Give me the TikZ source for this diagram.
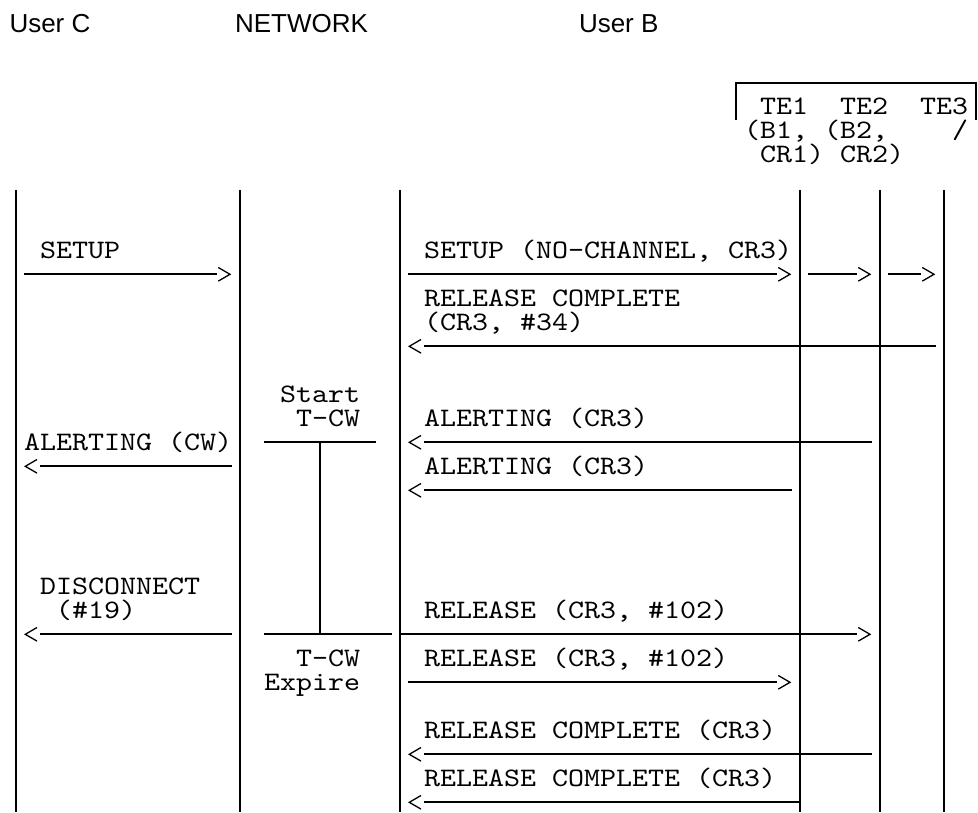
\documentclass[tikz,border=0pt]{standalone}
\usepackage{fontspec}
\setmainfont{Liberation Sans}
\newfontfamily\monof{lmmono10-regular}[Extension=.otf, FakeStretch=1.1429]
\newcommand\gcx[1]{8+16*(#1)}
\newcommand\gby[1]{18.5+24*(#1)}
\newcommand\gdy[1]{10.3+24*(#1)}
% right-going message: name, start x, column of '>', row
\newcommand\rmsg[4]{%
  \coordinate (#1a) at (#2,{\gdy{#4}});
  \coordinate (#1b) at ({\gcx{#3}+1},{\gdy{#4}});
  \coordinate (#1t) at ({\gcx{#3}+14},{\gdy{#4}});
  \draw[msg] (#1a) -- (#1b);
  \draw[tipline] ([shift={(-11.7,-6.8)}]#1t) -- (#1t) -- ([shift={(-11.7,6.8)}]#1t);}
% left-going message: name, column of '<', end x, row
\newcommand\lmsg[4]{%
  \coordinate (#1t) at ({\gcx{#2}+1.3},{\gdy{#4}});
  \coordinate (#1a) at ({\gcx{#2}+16},{\gdy{#4}});
  \coordinate (#1b) at (#3,{\gdy{#4}});
  \draw[msg] (#1a) -- (#1b);
  \draw[tipline] ([shift={(11.7,-6.8)}]#1t) -- (#1t) -- ([shift={(11.7,6.8)}]#1t);}
% monospaced text: name, column, row, text
\newcommand\mtext[4]{\node[mono] (#1) at ({\gcx{#2}},{\gby{#3}}) {#4};}
\begin{document}
\begin{tikzpicture}[x=1pt,y=-1pt,
  mono/.style={font=\monof\fontsize{26.667pt}{24pt}\selectfont\frenchspacing, anchor=base west, inner sep=0pt, outer sep=0pt},
  head/.style={font=\fontsize{26pt}{30pt}\selectfont, anchor=base west, inner sep=0pt, outer sep=0pt},
  life/.style={line width=2.1pt},
  msg/.style={line width=1.8pt},
  tipline/.style={line width=1.3pt, line join=miter},
  brk/.style={line width=1.9pt}]
\useasboundingbox (0,0) rectangle (978,812);
\fill[white] (0,0) rectangle (978,812);

% headers
\node[head] (hC) at (9.5,32) {User C};
\node[head] (hN) at (235,32) {NETWORK};
\node[head] (hB) at (579,32) {User B};

% TE bracket
\coordinate (bk1) at (736,120);
\coordinate (bk2) at (736,82.7);
\coordinate (bk3) at (976,82.7);
\coordinate (bk4) at (976,120);
\draw[brk] (bk1) -- (bk2) -- (bk3) -- (bk4);
\mtext{te1}{47}{4}{TE1}
\mtext{te2}{52}{4}{TE2}
\mtext{te3}{57}{4}{TE3}
\mtext{b1}{46}{5}{(B1,}
\mtext{b2}{51}{5}{(B2,}
\mtext{sl}{59}{5}{/}
\mtext{cr1}{47}{6}{CR1)}
\mtext{cr2}{52}{6}{CR2)}

% lifelines
\foreach \n/\x in {C/16,NL/240,NR/400,T1/800,T2/880,T3/944}{
  \coordinate (\n top) at (\x,190);
  \coordinate (\n bot) at (\x,812);
  \draw[life] (\n top) -- (\n bot);
}

% texts
\mtext{s1}{2}{10}{SETUP}
\mtext{s2}{26}{10}{SETUP (NO-CHANNEL, CR3)}
\mtext{rc1}{26}{12}{RELEASE COMPLETE}
\mtext{rc1b}{26}{13}{(CR3, \#34)}
\mtext{st}{17}{16}{Start}
\mtext{tcw1}{18}{17}{T-CW}
\mtext{al1}{26}{17}{ALERTING (CR3)}
\mtext{alcw}{1}{18}{ALERTING (CW)}
\mtext{al2}{26}{19}{ALERTING (CR3)}
\mtext{dc}{2}{24}{DISCONNECT}
\mtext{dcb}{3}{25}{(\#19)}
\mtext{rl1}{26}{25}{RELEASE (CR3, \#102)}
\mtext{tcw2}{18}{27}{T-CW}
\mtext{rl2}{26}{27}{RELEASE (CR3, \#102)}
\mtext{exp}{16}{28}{Expire}
\mtext{rc2}{26}{30}{RELEASE COMPLETE (CR3)}
\mtext{rc3}{26}{32}{RELEASE COMPLETE (CR3)}

% messages
\rmsg{m1}{24}{13}{11}
\rmsg{m2}{408}{48}{11}
\rmsg{m3}{808}{53}{11}
\rmsg{m4}{888}{57}{11}
\lmsg{m5}{25}{936}{14}
\lmsg{m6}{25}{872}{18}
\lmsg{m7}{1}{232}{19}
\lmsg{m8}{25}{792}{20}
\lmsg{m9}{1}{232}{26}
\rmsg{m10}{400}{53}{26}
\rmsg{m11}{408}{48}{28}
\lmsg{m12}{25}{872}{31}
\lmsg{m13}{25}{800}{33}

% timer T-CW
\coordinate (tu1) at (264,{\gdy{18}});
\coordinate (tu2) at (376,{\gdy{18}});
\coordinate (tl1) at (264,{\gdy{26}});
\coordinate (tl2) at (392,{\gdy{26}});
\coordinate (tvt) at (320,{\gdy{18}});
\coordinate (tvb) at (320,{\gdy{26}});
\draw[msg] (tu1) -- (tu2);
\draw[msg] (tl1) -- (tl2);
\draw[msg] (tvt) -- (tvb);
\end{tikzpicture}
\end{document}
